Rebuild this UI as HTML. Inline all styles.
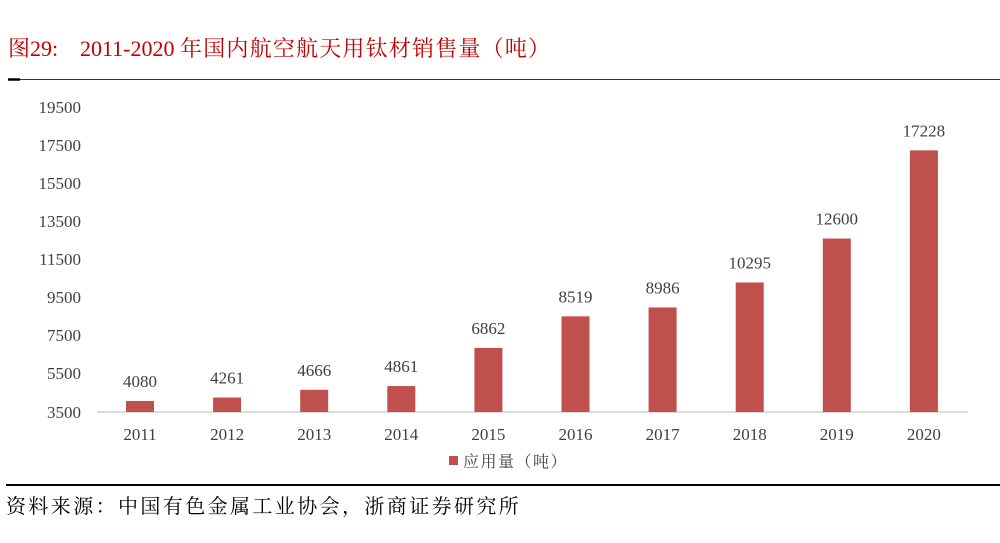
<!DOCTYPE html>
<html><head><meta charset="utf-8"><style>
body{margin:0;background:#fff;width:1000px;height:538px;overflow:hidden}
svg text{font-family:"Liberation Serif","Noto Serif CJK SC",serif}
</style></head><body>
<svg width="1000" height="538" xmlns="http://www.w3.org/2000/svg">
<text x="8" y="56" font-size="22" fill="#c00000">图29:</text>
<text x="80" y="56" font-size="22" fill="#c00000">2011-2020 <tspan letter-spacing="1.2">年国内航空航天用钛材销售量（吨）</tspan></text>
<line x1="8" y1="79.5" x2="1000" y2="79.5" stroke="#333" stroke-width="1"/>
<line x1="8" y1="79.5" x2="20" y2="79.5" stroke="#000" stroke-width="2.5"/>
<g font-size="17" fill="#404040" text-anchor="end">
<text x="81" y="113">19500</text><text x="81" y="151">17500</text><text x="81" y="189">15500</text>
<text x="81" y="227">13500</text><text x="81" y="265">11500</text><text x="81" y="303">9500</text>
<text x="81" y="341">7500</text><text x="81" y="379">5500</text><text x="81" y="418">3500</text>
</g>
<line x1="97" y1="412" x2="968" y2="412" stroke="#d0d0d0" stroke-width="1.5"/>
<g fill="#c0504d" id="bars"></g>
<g font-size="17" fill="#404040" text-anchor="middle" id="labs"></g>
<rect x="449" y="456" width="9" height="9" fill="#c0504d"/>
<text x="463" y="467" font-size="16" fill="#404040" letter-spacing="1.5">应用量（吨）</text>
<line x1="6" y1="485" x2="1000" y2="485" stroke="#000" stroke-width="2"/>
<text x="6" y="513" font-size="20" fill="#000" letter-spacing="2.4">资料来源：中国有色金属工业协会，浙商证券研究所</text>
</svg>
<script>
var d=[4080,4261,4666,4861,6862,8519,8986,10295,12600,17228];
var b=document.getElementById('bars'),l=document.getElementById('labs'),ns='http://www.w3.org/2000/svg';
d.forEach(function(v,i){var cx=140+i*87.1,y=412-(v-3500)*0.01906;
var r=document.createElementNS(ns,'rect');r.setAttribute('x',cx-14);r.setAttribute('y',y);r.setAttribute('width',28);r.setAttribute('height',412-y);b.appendChild(r);
var t=document.createElementNS(ns,'text');t.setAttribute('x',cx);t.setAttribute('y',y-14);t.textContent=v;l.appendChild(t);
var t2=document.createElementNS(ns,'text');t2.setAttribute('x',cx);t2.setAttribute('y',440);t2.textContent=2011+i;l.appendChild(t2);});
</script>
</body></html>
